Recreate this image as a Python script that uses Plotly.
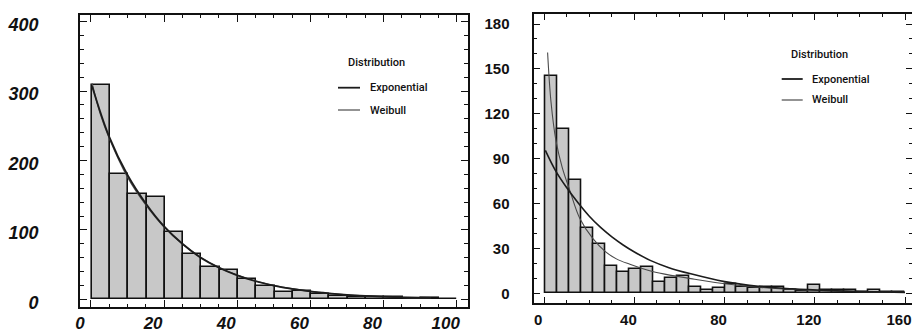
import plotly.graph_objects as go

W, H = 912, 335

# ---------------- data ----------------
# Left panel histogram: bins of width 5 starting at 0.2
left_bin_start = 0.2
left_bin_width = 5.0
left_counts = [309, 181, 152, 148, 97, 65, 46, 42, 29, 19,
               11, 12, 7, 5, 4, 4, 3, 1, 1.5, 0.5]

left_exp_x = [0.3, 5, 10, 15, 20, 25, 30, 35, 40, 45, 50, 55, 60, 65, 70, 75, 80, 85, 90, 93]
left_exp_y = [307, 234, 179, 138, 105, 80, 60, 45.5, 34.5, 26, 19.8, 15, 11.3, 8.6, 6.5, 5, 3.8, 2.9, 2.2, 1.9]
left_wei_x = [0.3, 2.5, 5, 10, 15, 20, 25, 30, 35, 40, 45, 50, 55, 60, 65, 70, 75, 80, 85, 90, 93]
left_wei_y = [311, 268, 232, 176, 136, 104, 79.5, 60.5, 46, 35, 26.5, 20, 15.2, 11.5, 8.6, 6.4, 4.8, 3.6, 2.7, 2, 1.7]

# Right panel histogram: 30 bins of width 5.3 starting at 0.6
right_bin_start = 0.6
right_bin_width = 5.3
right_counts = [145, 110, 75.5, 43.5, 32.7, 18.4, 14.5, 16.2, 17.4, 7.6,
                10, 11.4, 4, 2, 3.7, 6, 4, 3.5, 4, 4,
                2, 1.4, 5.3, 2, 2, 2, 1, 2.2, 1, 0.8]

right_exp_x = [0.5, 5, 10, 15, 20, 25, 30, 35, 40, 47, 55, 65, 80, 95, 110, 125, 140, 160]
right_exp_y = [95.5, 82, 70.5, 60.5, 51.5, 44, 37.7, 32.3, 27.6, 22, 17.3, 13, 7.8, 4.6, 3.0, 1.9, 1.2, 0.6]
right_wei_x = [1.5, 3, 5.2, 8, 11.3, 15.8, 21.6, 27, 32, 38, 48, 57, 65, 82, 96, 110, 125, 140, 160]
right_wei_y = [161, 128, 102, 84, 69, 50, 36.5, 28, 23, 19.4, 14.5, 11.8, 9.8, 6, 3.9, 2.6, 1.7, 1.1, 0.6]

legend_title = "Distribution"
series_names = ["Exponential", "Weibull"]

# ---------------- styles ----------------
BAR_FILL = "#c8c8c8"
BAR_LINE = "#111111"
EXP_COLOR = "#1c1c1c"
WEI_COLOR = "#4a4a4a"
FONT = "Liberation Sans, Arial, sans-serif"
LEG_FONT = "Roboto, Liberation Sans, Arial, sans-serif"


def centers(start, width, n):
    return [start + width * (i + 0.5) for i in range(n)]


fig = go.Figure()

# left panel
fig.add_trace(go.Bar(
    x=centers(left_bin_start, left_bin_width, len(left_counts)), y=left_counts,
    width=left_bin_width, marker=dict(color=BAR_FILL, line=dict(color=BAR_LINE, width=1.6)),
    xaxis="x", yaxis="y", showlegend=False, hoverinfo="skip"))
fig.add_trace(go.Scatter(x=left_wei_x, y=left_wei_y, mode="lines", name=series_names[1],
                         line=dict(color=WEI_COLOR, width=1.3, shape="spline", smoothing=1.0),
                         xaxis="x", yaxis="y", showlegend=False))
fig.add_trace(go.Scatter(x=left_exp_x, y=left_exp_y, mode="lines", name=series_names[0],
                         line=dict(color=EXP_COLOR, width=1.8, shape="spline", smoothing=1.0),
                         xaxis="x", yaxis="y", showlegend=False))

# right panel
fig.add_trace(go.Bar(
    x=centers(right_bin_start, right_bin_width, len(right_counts)), y=right_counts,
    width=right_bin_width, marker=dict(color=BAR_FILL, line=dict(color=BAR_LINE, width=1.6)),
    xaxis="x2", yaxis="y2", showlegend=False, hoverinfo="skip"))
fig.add_trace(go.Scatter(x=right_wei_x, y=right_wei_y, mode="lines", name=series_names[1],
                         line=dict(color=WEI_COLOR, width=1.1, shape="spline", smoothing=1.0),
                         xaxis="x2", yaxis="y2", showlegend=False))
fig.add_trace(go.Scatter(x=right_exp_x, y=right_exp_y, mode="lines", name=series_names[0],
                         line=dict(color=EXP_COLOR, width=1.6, shape="spline", smoothing=1.0),
                         xaxis="x2", yaxis="y2", showlegend=False))


def px_x(p):
    return p / W


def px_y(p):
    return 1 - p / H


axis_common = dict(showline=True, linecolor="#111", linewidth=1.6, mirror="allticks",
                   ticks="inside", tickcolor="#111", showgrid=False, zeroline=False,
                   fixedrange=True, automargin=False)

left_tick_font = dict(family=FONT, size=18, color="#111", weight="bold", style="italic")
left_xtick_font = dict(family=FONT, size=17, color="#111", weight="bold", style="italic")
right_tick_font = dict(family=FONT, size=15, color="#111", weight="bold")

fig.update_layout(
    width=W, height=H, margin=dict(l=0, r=0, t=0, b=0, autoexpand=False),
    paper_bgcolor="white", plot_bgcolor="white", bargap=0,
    xaxis=dict(domain=[px_x(80), px_x(468)], range=[-3.0, 103.1], anchor="y",
               tickvals=[0, 20, 40, 60, 80, 100], ticklen=7, tickwidth=1.3,
               minor=dict(dtick=5, tick0=0, ticklen=3, ticks="inside", tickcolor="#111", tickwidth=1),
               tickfont=left_xtick_font, ticklabelshift=-11, ticklabelstandoff=0,
               **axis_common),
    yaxis=dict(domain=[px_y(307), px_y(15)], range=[-11.1, 409.6], anchor="x",
               tickvals=[0, 100, 200, 300, 400], ticklen=7, tickwidth=1.3,
               minor=dict(dtick=20, tick0=0, ticklen=4, ticks="inside", tickcolor="#111", tickwidth=1),
               tickfont=left_tick_font, ticklabelshift=3, ticklabelstandoff=36,
               **axis_common),
    xaxis2=dict(domain=[px_x(534.3), 1.0], range=[-4.4, 163.1], anchor="y2",
                tickvals=[0, 40, 80, 120, 160], ticklen=6, tickwidth=1.3,
                minor=dict(dtick=10, tick0=0, ticklen=3, ticks="inside", tickcolor="#111", tickwidth=1),
                tickfont=right_tick_font, ticklabelshift=-6, ticklabelstandoff=2,
                **axis_common),
    yaxis2=dict(domain=[px_y(302.7), px_y(14)], range=[-6.3, 186.7], anchor="x2",
                tickvals=[0, 30, 60, 90, 120, 150, 180], ticklen=6, tickwidth=1.3,
                minor=dict(dtick=10, tick0=0, ticklen=3, ticks="inside", tickcolor="#111", tickwidth=1),
                tickfont=right_tick_font, ticklabelstandoff=20,
                **axis_common),
)

# manual legends (title + line samples + labels), positioned in pixels
legend_specs = [
    dict(title_cx=376.7, title_y=62.7, x0=338, x1=360, text_x=368.3, ys=[87.7, 110]),
    dict(title_cx=819, title_y=54, x0=781.7, x1=802.7, text_x=810, ys=[79, 100]),
]
legend_styles = [dict(color=EXP_COLOR, width=1.8), dict(color=WEI_COLOR, width=1.2)]
for spec in legend_specs:
    fig.add_annotation(x=px_x(spec["title_cx"]), y=px_y(spec["title_y"]), xref="paper", yref="paper",
                       text=legend_title, showarrow=False, xanchor="center", yanchor="middle",
                       font=dict(family=LEG_FONT, size=11, color="#111", weight=500))
    for name, yy, st in zip(series_names, spec["ys"], legend_styles):
        fig.add_shape(type="line", xref="paper", yref="paper",
                      x0=px_x(spec["x0"]), x1=px_x(spec["x1"]), y0=px_y(yy), y1=px_y(yy),
                      line=st)
        fig.add_annotation(x=px_x(spec["text_x"]), y=px_y(yy), xref="paper", yref="paper",
                           text=name, showarrow=False, xanchor="left", yanchor="middle",
                           font=dict(family=LEG_FONT, size=11, color="#111", weight=500))

fig.write_html("out.html", config={"displayModeBar": False})
